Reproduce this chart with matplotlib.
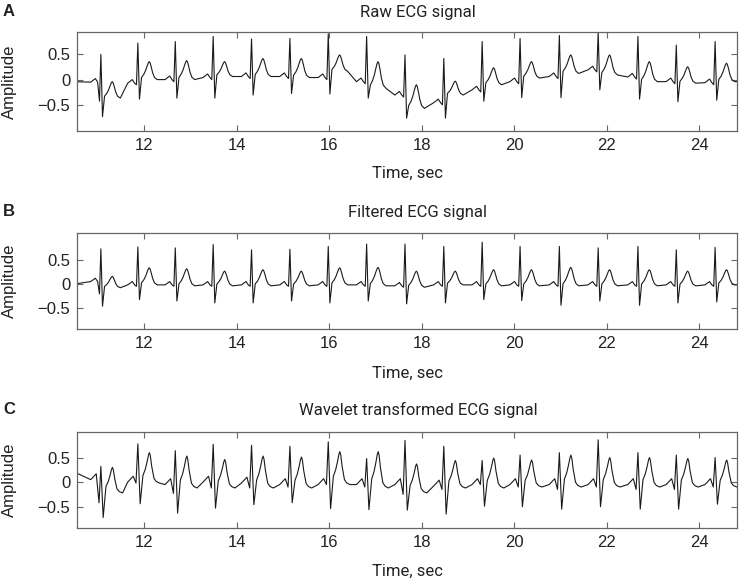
import matplotlib
matplotlib.use("Agg")
import matplotlib.pyplot as plt
import numpy as np

# R-peak times (sec), same beats in the three panels
r_times = [11.06, 11.86, 12.67, 13.49, 14.32, 15.15, 15.98, 16.81, 17.64,
           18.48, 19.31, 20.13, 20.98, 21.82, 22.68, 23.51, 24.35]

# A: raw signal
pre_a = [-0.05, -0.07, 0.00, 0.04, 0.06, 0.06, 0.04, -0.04, -0.30,
         -0.45, -0.20, -0.04, 0.06, 0.19, 0.05, -0.04, -0.06]
q_a = [-0.42, -0.10, -0.04, 0.00, 0.02, 0.02, 0.00, -0.08, -0.34,
       -0.49, -0.24, -0.08, 0.02, 0.15, 0.01, -0.08, -0.10]
r_a = [0.49, 0.71, 0.74, 0.84, 0.79, 0.80, 0.89, 0.84, 0.48,
       0.41, 0.74, 0.80, 0.86, 0.92, 0.84, 0.67, 0.74]
s_a = [-0.72, -0.38, -0.36, -0.36, -0.30, -0.27, -0.28, -0.36, -0.75,
       -0.75, -0.42, -0.35, -0.35, -0.20, -0.38, -0.43, -0.40]
t_a = [-0.04, 0.35, 0.37, 0.35, 0.41, 0.41, 0.48, 0.35, -0.10,
       -0.03, 0.23, 0.35, 0.48, 0.48, 0.35, 0.25, 0.32]
post_a = [-0.36, 0.00, 0.00, 0.06, 0.06, 0.04, 0.16, -0.17, -0.56,
          -0.30, -0.10, 0.03, 0.12, 0.09, -0.04, -0.07, -0.04]

# B: filtered signal
pre_b = [0.05, -0.02, -0.02, -0.02, -0.02, -0.02, -0.02, -0.02, -0.04,
         -0.02, -0.02, -0.02, -0.02, -0.02, -0.02, -0.02, -0.02]
q_b = [-0.21, -0.05, -0.05, -0.05, -0.05, -0.05, -0.05, -0.05, -0.07,
       -0.05, -0.05, -0.05, -0.05, -0.05, -0.05, -0.05, -0.05]
r_b = [0.74, 0.78, 0.76, 0.83, 0.72, 0.73, 0.79, 0.84, 0.84,
       0.79, 0.88, 0.79, 0.79, 0.76, 0.79, 0.72, 0.77]
s_b = [-0.47, -0.33, -0.36, -0.40, -0.40, -0.36, -0.40, -0.36, -0.42,
       -0.40, -0.33, -0.35, -0.45, -0.36, -0.45, -0.40, -0.38]
t_b = [0.16, 0.34, 0.32, 0.27, 0.30, 0.27, 0.34, 0.35, 0.27,
       0.27, 0.30, 0.30, 0.35, 0.30, 0.30, 0.27, 0.30]
post_b = [-0.08, -0.02, -0.04, -0.04, -0.04, -0.04, -0.02, -0.04, -0.07,
          -0.02, -0.04, -0.04, -0.04, -0.04, -0.04, -0.04, -0.02]

# C: wavelet transformed signal
pre_c = [0.05, 0.00, -0.05, 0.00, -0.02, -0.05, -0.05, -0.05, -0.05,
         -0.08, -0.05, -0.05, -0.05, -0.05, -0.05, -0.05, -0.05]
q_c = [-0.42, -0.02, -0.23, -0.12, -0.12, -0.10, -0.05, -0.10, -0.25,
       -0.15, -0.05, -0.10, -0.15, -0.10, -0.15, -0.15, -0.10]
r_c = [0.32, 0.78, 0.64, 0.77, 0.75, 0.73, 0.82, 0.48, 0.85,
       0.73, 0.44, 0.55, 0.60, 0.86, 0.60, 0.55, 0.50]
s_c = [-0.72, -0.44, -0.63, -0.53, -0.46, -0.42, -0.54, -0.56, -0.57,
       -0.65, -0.49, -0.50, -0.55, -0.50, -0.55, -0.55, -0.45]
t_c = [0.30, 0.60, 0.53, 0.46, 0.53, 0.51, 0.62, 0.62, 0.37,
       0.44, 0.49, 0.45, 0.55, 0.50, 0.50, 0.48, 0.45]
post_c = [-0.22, -0.02, -0.12, -0.12, -0.12, -0.12, -0.05, -0.12, -0.22,
          -0.12, -0.12, -0.10, -0.10, -0.10, -0.10, -0.10, -0.10]

start_vals = {"A": -0.04, "B": 0.00, "C": 0.20}

titles = ["Raw ECG signal", "Filtered ECG signal", "Wavelet transformed ECG signal"]
letters = ["A", "B", "C"]
ylims = [(-1.0, 0.92), (-0.95, 1.08), (-0.94, 1.02)]
xticks = [12, 14, 16, 18, 20, 22, 24]
yticks = [-0.5, 0, 0.5]

# beat shape: time offsets from R and fraction of the T wave above the post level
T_OFFS = [0.08, 0.13, 0.17, 0.20, 0.225, 0.245, 0.265, 0.29, 0.32, 0.36, 0.42]
T_FRAC = [0.12, 0.30, 0.52, 0.75, 0.92, 1.00, 0.93, 0.70, 0.38, 0.12, 0.0]
C_OFFS = [0.11, 0.16, 0.20, 0.23, 0.25, 0.27, 0.30, 0.35, 0.40, 0.47]
C_FRAC = [0.25, 0.45, 0.70, 0.92, 1.00, 0.90, 0.55, 0.15, 0.05, 0.0]


def build_trace(start, pre, q, r, s, t, post, smooth=False):
    xs = [10.5]
    ys = [start]
    for i, t0 in enumerate(r_times):
        if smooth:
            dt = [-0.22, -0.10, -0.04, 0.0, 0.05] + C_OFFS
            vs = [pre[i], pre[i] + 0.12, q[i], r[i], s[i]]
            vs += [post[i] + f * (t[i] - post[i]) for f in C_FRAC]
        else:
            dt = [-0.22, -0.12, -0.07, -0.03, 0.0, 0.035] + T_OFFS
            vs = [pre[i], pre[i] + 0.07, pre[i], q[i], r[i], s[i]]
            vs += [post[i] + f * (t[i] - post[i]) for f in T_FRAC]
        xs.extend(t0 + d for d in dt)
        ys.extend(vs)
    xs.append(25.0)
    ys.append(post[-1])
    return np.array(xs), np.array(ys)


traces = [
    build_trace(start_vals["A"], pre_a, q_a, r_a, s_a, t_a, post_a),
    build_trace(start_vals["B"], pre_b, q_b, r_b, s_b, t_b, post_b),
    build_trace(start_vals["C"], pre_c, q_c, r_c, s_c, t_c, post_c, smooth=True),
]

W, H = 739, 582
fig = plt.figure(figsize=(W / 100, H / 100), dpi=100)

# axes boxes in pixels: top, bottom
boxes = [(32.3, 131.0), (232.7, 329.0), (432.0, 528.3)]
left_px, right_px = 77.3, 737.3
title_y = [12, 212, 410]
xlabel_y = [173, 373, 571]

for k in range(3):
    top, bot = boxes[k]
    ax = fig.add_axes([left_px / W, 1 - bot / H, (right_px - left_px) / W, (bot - top) / H])
    x, y = traces[k]
    ax.plot(x, y, color="#1a1a1a", lw=0.8)
    ax.set_xlim(10.55, 24.83)
    ax.set_ylim(*ylims[k])
    ax.set_xticks(xticks)
    ax.set_yticks(yticks)
    ax.set_yticklabels(["\u22120.5", "0", "0.5"])
    ax.tick_params(direction="in", top=True, right=True, length=4, width=0.8,
                   color="#666666", labelsize=12, pad=5)
    for lab in ax.get_xticklabels() + ax.get_yticklabels():
        lab.set_fontfamily("Liberation Sans")
        lab.set_color("#222222")
    for sp in ax.spines.values():
        sp.set_color("#666666")
        sp.set_linewidth(0.9)

    mid_y = (top + bot) / 2
    fig.text(418 / W, 1 - title_y[k] / H, titles[k], ha="center", va="center",
             fontsize=12, family="Roboto", color="#222222")
    fig.text((left_px + right_px) / 2 / W, 1 - xlabel_y[k] / H, "Time, sec",
             ha="center", va="center", fontsize=12, family="Roboto", color="#222222")
    fig.text(9.5 / W, 1 - mid_y / H, "Amplitude", rotation=90, ha="center",
             va="center", fontsize=12, family="Liberation Sans", color="#222222")
    fig.text(9 / W, 1 - (title_y[k] - 1) / H, letters[k], ha="center", va="center",
             fontsize=12, family="Liberation Sans", fontweight="bold", color="#222222")

fig.savefig("out.png", dpi=100)
